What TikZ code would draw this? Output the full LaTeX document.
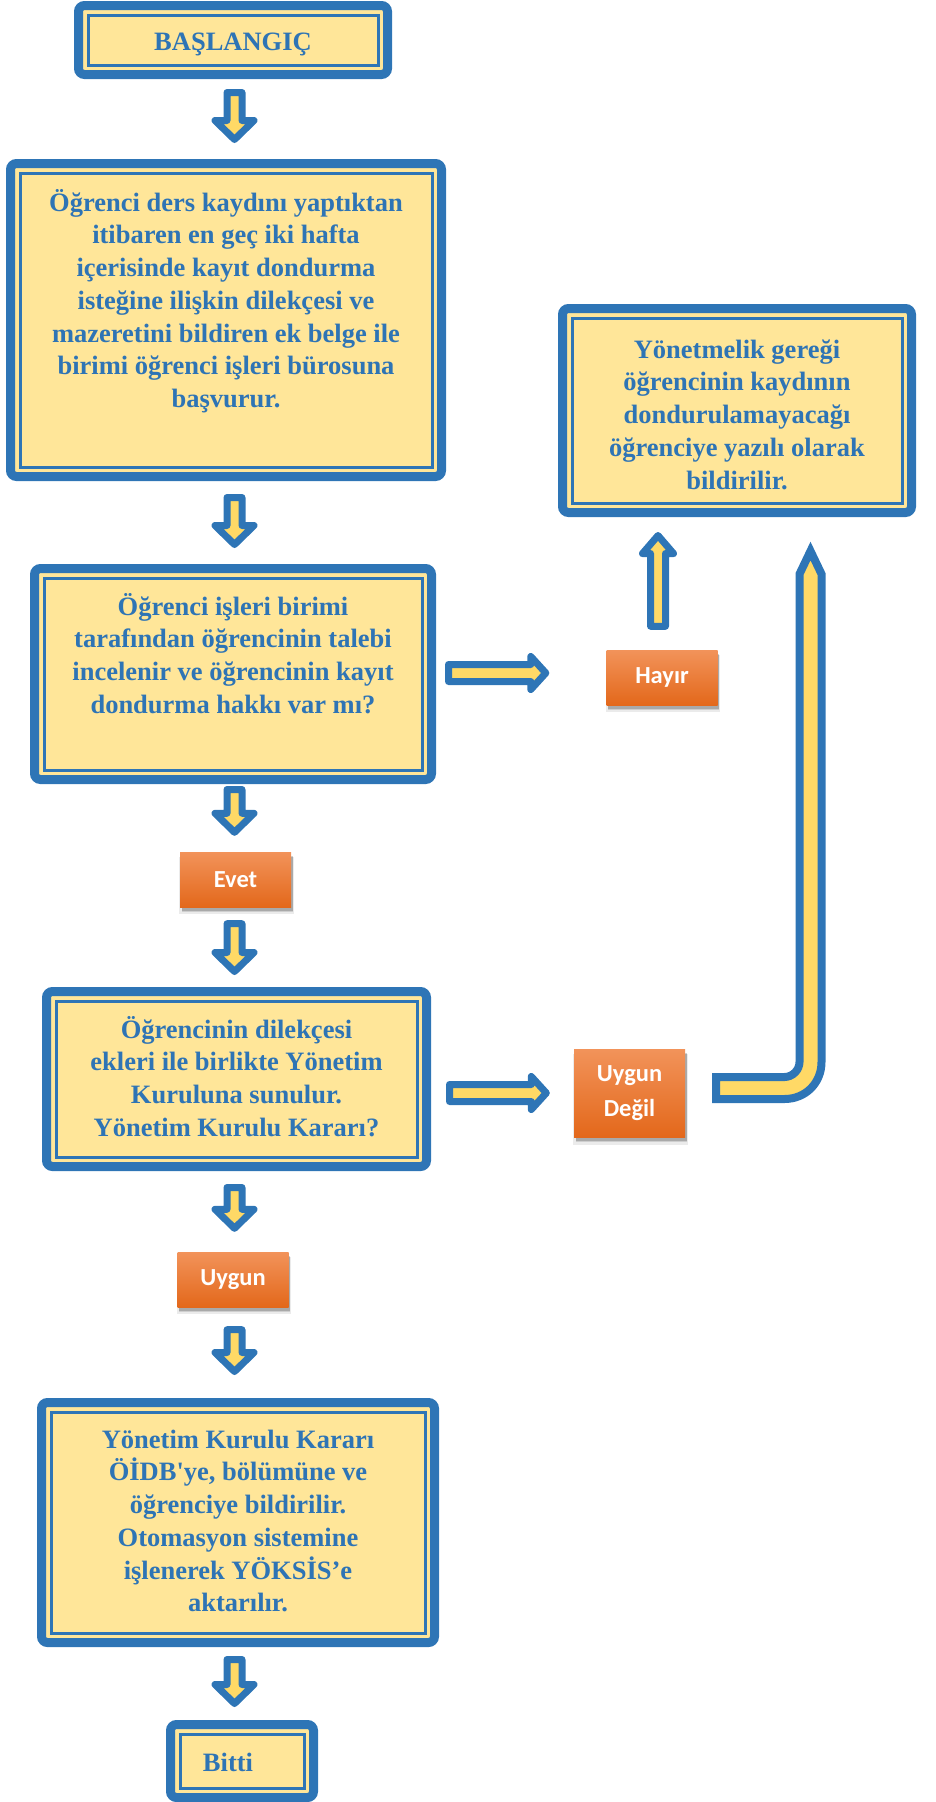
\documentclass[tikz,border=0pt]{standalone}
\usepackage{fontspec}
\setmainfont{Liberation Serif}
\newfontfamily\lblfont{Carlito}
\usetikzlibrary{calc,shadows}
\definecolor{bblue}{HTML}{2E75B6}
\definecolor{byel}{HTML}{FFE699}
\definecolor{ayel}{HTML}{FFD966}
\definecolor{tblue}{HTML}{2E74B5}
\definecolor{orT}{HTML}{F2935A}
\definecolor{orM}{HTML}{F07C2E}
\definecolor{orB}{HTML}{E3681B}
\newcommand\firstl{\rule{0pt}{25pt}}
\tikzset{
 frame/.style={draw=bblue, line width=9pt, fill=byel, rounded corners=6pt, inner sep=0pt},
 inframe/.style={draw=bblue, line width=3pt},
 txt/.style={font=\fontsize{26.5}{32.7}\selectfont\bfseries, text=tblue, align=center, inner sep=0pt, anchor=north},
 lbl/.style={font=\lblfont\bfseries\fontsize{24.5}{35}\selectfont, text=white, top color=orT, middle color=orM, bottom color=orB, minimum width=111pt, minimum height=55pt, inner sep=0pt, align=center,
   drop shadow={shadow xshift=1pt, shadow yshift=-6pt, fill=black, opacity=0.08, shadow scale=1.03},
   drop shadow={shadow xshift=1.5pt, shadow yshift=-5pt, fill=black, opacity=0.12},
   drop shadow={shadow xshift=1.5pt, shadow yshift=-3.5pt, fill=black, opacity=0.18}},
 blk/.style={draw=bblue, line width=7pt, fill=ayel, line join=round},
 bigblk/.style={draw=bblue, line width=8pt, fill=ayel, line join=miter},
}
\newcommand\bdown[4]{%
 \coordinate (T) at ($(#1.south -| ax)+(0,#3+3.5)$);
 \coordinate (B) at ($(#2.north -| ax)+(0,-#4-3.5)$);
 \draw[blk] ($(T)+(-7.5,0)$) -- ($(B)+(-7.5,-19)$) -- ($(B)+(-19.5,-19)$) -- (B) -- ($(B)+(19.5,-19)$) -- ($(B)+(7.5,-19)$) -- ($(T)+(7.5,0)$) -- cycle;}
\newcommand\bright[5]{%
 \coordinate (T) at ($(#1.east |- #3)+(#4+3.5,0)$);
 \coordinate (B) at ($(#2.west |- #3)+(-#5-3.5,0)$);
 \draw[blk] ($(T)+(0,-8.5)$) -- ($(B)+(-15,-8.5)$) -- ($(B)+(-15,-16.5)$) -- (B) -- ($(B)+(-15,16.5)$) -- ($(B)+(-15,8.5)$) -- ($(T)+(0,8.5)$) -- cycle;}
\newcommand\bup[4]{%
 \coordinate (T) at ($(#1.north -| ux)+(0,-#3-3.5)$);
 \coordinate (B) at ($(#2.south -| ux)+(0,#4+3.5)$);
 \draw[blk] ($(T)+(-7.5,0)$) -- ($(B)+(-7.5,18)$) -- ($(B)+(-15.5,18)$) -- (B) -- ($(B)+(15.5,18)$) -- ($(B)+(7.5,18)$) -- ($(T)+(7.5,0)$) -- cycle;}
\begin{document}
\begin{tikzpicture}[x=1pt,y=-1pt]
\useasboundingbox (0,0) rectangle (936,1802);
\coordinate (ax) at (234.5,0);
\coordinate (ux) at (658,0);
\coordinate (ry1) at (0,673);
\coordinate (ry2) at (0,1093);
% boxes
\node[frame, minimum width=309pt, minimum height=69pt] (start) at (233,40) {};
\node[frame, minimum width=431pt, minimum height=313pt] (b2) at (226,320) {};
\node[frame, minimum width=397pt, minimum height=211pt] (b3) at (233,674) {};
\node[frame, minimum width=349pt, minimum height=204pt] (b6) at (737,410.5) {};
\node[frame, minimum width=380pt, minimum height=175pt] (b4) at (236.5,1079) {};
\node[frame, minimum width=393pt, minimum height=240pt] (b5) at (238,1522.5) {};
\node[frame, minimum width=143pt, minimum height=73pt] (bitti) at (242,1761) {};
\foreach \n in {start,b2,b3,b6,b4,b5,bitti}
  \draw[inframe] ($(\n.north west)+(14,14)$) rectangle ($(\n.south east)+(-14,-14)$);
% texts
\node[txt] (t1) at ($(start.north)+(0,24)$) {\firstl BAŞLANGIÇ};
\node[txt] (t2) at ($(b2.north)+(0,27)$) {\firstl Öğrenci ders kaydını yaptıktan\\itibaren en geç iki hafta\\içerisinde kayıt dondurma\\isteğine ilişkin dilekçesi ve\\mazeretini bildiren ek belge ile\\birimi öğrenci işleri bürosuna\\başvurur.};
\node[txt] (t3) at ($(b3.north)+(0,26)$) {\firstl Öğrenci işleri birimi\\tarafından öğrencinin talebi\\incelenir ve öğrencinin kayıt\\dondurma hakkı var mı?};
\node[txt] (t6) at ($(b6.north)+(0,29)$) {\firstl Yönetmelik gereği\\öğrencinin kaydının\\dondurulamayacağı\\öğrenciye yazılı olarak\\bildirilir.};
\node[txt] (t4) at ($(b4.north)+(0,26)$) {\firstl Öğrencinin dilekçesi\\ekleri ile birlikte Yönetim\\Kuruluna sunulur.\\Yönetim Kurulu Kararı?};
\node[txt] (t5) at ($(b5.north)+(0,25)$) {\firstl Yönetim Kurulu Kararı\\ÖİDB\textquotesingle ye, bölümüne ve\\öğrenciye bildirilir.\\Otomasyon sistemine\\işlenerek YÖKSİS’e\\aktarılır.};
\node[txt] (t7) at ($(bitti.north)+(-14,26)$) {\firstl Bitti};
% labels
\node[lbl] (hayir) at (662,677.5) {Hayır};
\node[lbl] (evet) at (235.5,879.5) {Evet};
\node[lbl, minimum height=88pt] (ud) at (629.5,1093) {Uygun\\Değil};
\node[lbl] (uygun) at (233,1279.5) {Uygun};
% block arrows
\bdown{start}{b2}{10}{16}
\bdown{b2}{b3}{13}{16}
\bdown{b3}{evet}{2}{16}
\bdown{evet}{b4}{13}{12}
\bdown{b4}{uygun}{13}{20}
\bdown{uygun}{b5}{19}{23}
\bdown{b5}{bitti}{9}{13}
\bright{b3}{hayir}{ry1}{9}{57}
\bright{b4}{ud}{ry2}{15}{24}
\bup{hayir}{b6}{20}{15}
% long bent arrow
\coordinate (bs) at ($(ud.east)+(31,-5)$);
\coordinate (bt) at ($(b6.south)+(73.5,34)$);
\coordinate (K) at (bt |- bs);
\draw[bigblk] ($(bs)+(0,11)$) -- ($(K)+(-26,11)$) .. controls ($(K)+(-5,11)$) and ($(K)+(11,-5)$) .. ($(K)+(11,-26)$) -- ($(bt)+(11,23)$) -- (bt) -- ($(bt)+(-11,23)$) -- ($(K)+(-11,-26)$) .. controls ($(K)+(-11,-18)$) and ($(K)+(-18,-11)$) .. ($(K)+(-26,-11)$) -- ($(bs)+(0,-11)$) -- cycle;
\end{tikzpicture}
\end{document}
